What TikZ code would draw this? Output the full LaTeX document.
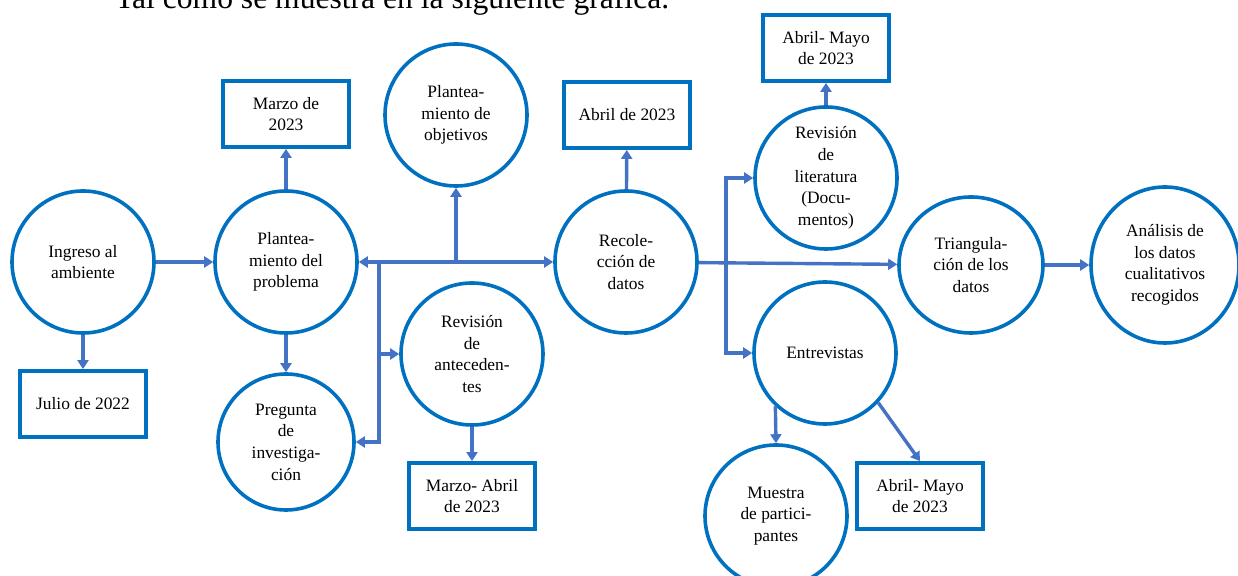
\documentclass[tikz,border=0pt]{standalone}
\usepackage{fontspec}
\setmainfont{Liberation Serif}
\usepackage{xcolor}
\usepackage{tikz}
\usetikzlibrary{arrows.meta,positioning,shapes.geometric,calc}
\definecolor{ringblue}{HTML}{0070C0}
\definecolor{arrowblue}{HTML}{4472C4}

\begin{document}
\begin{tikzpicture}[
  x=0.5pt, y=-0.5pt,
  font=\fontsize{8.7}{10.8}\selectfont,
  >={Triangle[length=4.5pt,width=5.5pt]},
  ph/.style={circle, draw=ringblue, line width=1.8pt, minimum size=71pt,
    inner sep=0pt, align=center},
  date/.style={rectangle, draw=ringblue, line width=1.9pt, minimum width=63pt,
    minimum height=33pt, inner sep=1pt, align=center},
  e/.style={->, line width=1.7pt, draw=arrowblue},
]
\useasboundingbox (0,0) rectangle (1238,576);
\clip (0,0) rectangle (1238,576);

\node[font=\fontsize{15.8}{18}\selectfont, anchor=base west] (intro) at (108,8.5)
  {Tal como se muestra en la siguiente gráfica.};

% fase inicial
\node[ph] (ingreso) at (83,262) {Ingreso al\\ambiente};
\node[date] (julio) at (83,404) {Julio de 2022};
\node[ph] (problema) at (286,262) {Plantea-\\miento del\\problema};
\node[date] (marzo) at (286,114) {Marzo de\\2023};
\node[ph, minimum size=68pt] (pregunta) at (286,442) {Pregunta\\de\\investiga-\\ción};
\node[ph] (objetivos) at (456,115) {Plantea-\\miento de\\objetivos};
\node[ph] (antecedentes) at (472,354) {Revisión\\de\\anteceden-\\tes};
\node[date] (marzoabril) at (472,496) {Marzo- Abril\\de 2023};

% recoleccion
\node[ph] (recoleccion) at (626,262) {Recole-\\cción de\\datos};
\node[date] (abril) at (627,115) {Abril de 2023};
\node[ph] (literatura) at (826,178) {Revisión\\de\\literatura\\(Docu-\\mentos)};
\node[date] (abrilmayoA) at (826,48) {Abril- Mayo\\de 2023};
\node[ph] (entrevistas) at (825,353) {Entrevistas};
\node[ph] (muestra) at (776,516) {Muestra\\de partici-\\pantes};
\node[date] (abrilmayoB) at (920,496) {Abril- Mayo\\de 2023};

% cierre
\node[ph, ellipse, minimum width=72pt, minimum height=68pt] (triang) at (971,265)
  {Triangula-\\ción de los\\datos};
\node[ph, ellipse, minimum width=74pt, minimum height=78pt] (analisis) at (1165,265)
  {Análisis de\\los datos\\cualitativos\\recogidos};

\coordinate (jl) at (379,262);
\coordinate (jr) at (726,263);

\draw[e] (ingreso) -- (problema);
\draw[e] (ingreso) -- (julio);
\draw[e] (problema) -- (marzo);
\draw[e] (problema) -- (pregunta);
\draw[e, <->] (problema) -- (recoleccion);
\draw[e] (objetivos |- problema) -- (objetivos);
\draw[e] (jl) |- (pregunta);
\draw[e] (jl |- antecedentes) -- (antecedentes);
\draw[e] (antecedentes) -- (marzoabril);
\draw[e] (recoleccion) -- (abril);
\draw[e] (recoleccion) -- (triang);
\draw[e] (jr) |- (literatura);
\draw[e] (jr) |- (entrevistas);
\draw[e] (literatura) -- (abrilmayoA);
\draw[e] (triang) -- (analisis);
\draw[e] (entrevistas.-133) -- (muestra.north);
\draw[e] (entrevistas.-43) -- (abrilmayoB.north);
\end{tikzpicture}
\end{document}
